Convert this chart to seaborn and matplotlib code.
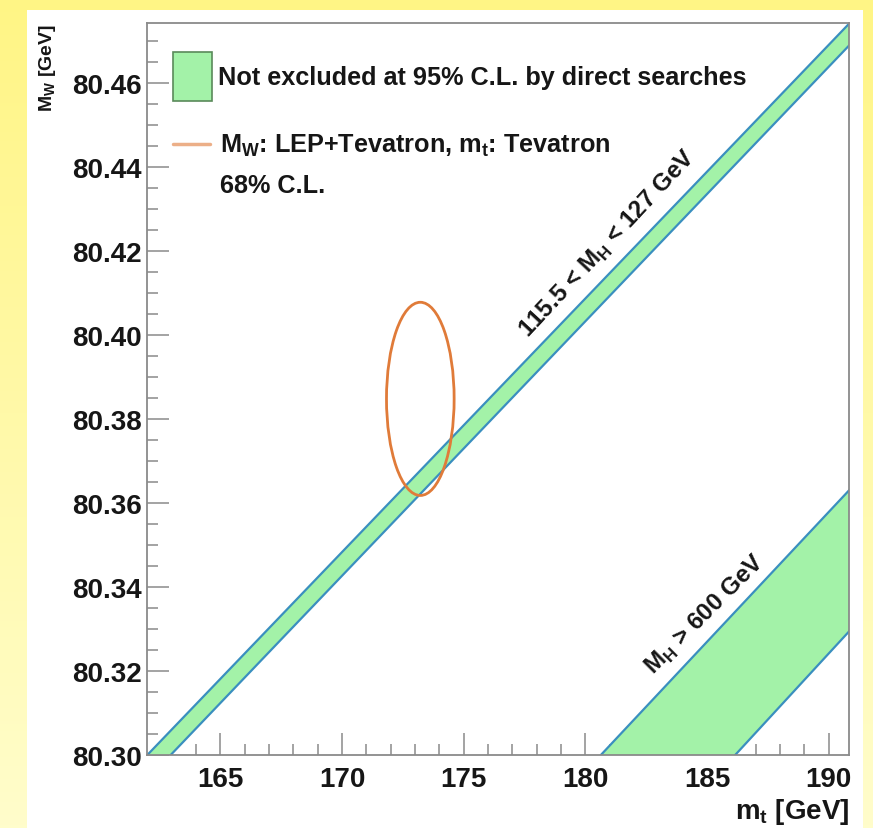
import numpy as np
import pandas as pd
import matplotlib
matplotlib.use("Agg")
import matplotlib.pyplot as plt
import seaborn as sns
from matplotlib.patches import Rectangle, Ellipse
from matplotlib.lines import Line2D
from matplotlib.colors import LinearSegmentedColormap

# ---------------- data ----------------
# SM band 115.5 < MH < 127 GeV : edges (mt, MW)
band_light_upper_mt = [162.0, 190.9]
band_light_upper_mw = [80.300, 80.4745]
band_light_lower_mt = [162.96, 190.9]
band_light_lower_mw = [80.300, 80.4693]
# SM band MH > 600 GeV
band_heavy_upper_mt = [180.64, 190.9]
band_heavy_upper_mw = [80.300, 80.3634]
band_heavy_lower_mt = [186.16, 190.9]
band_heavy_lower_mw = [80.300, 80.3298]
# 68% CL measurement ellipse
meas_mt = 173.22
meas_mw = 80.3848
meas_half_mt = 1.39
meas_half_mw = 0.0230

x_ticks = [165, 170, 175, 180, 185, 190]
y_ticks = [80.30, 80.32, 80.34, 80.36, 80.38, 80.40, 80.42, 80.44, 80.46]
x_tick_labels = ["165", "170", "175", "180", "185", "190"]
y_tick_labels = ["80.30", "80.32", "80.34", "80.36", "80.38", "80.40", "80.42", "80.44", "80.46"]

legend_labels = ["Not excluded at 95% C.L. by direct searches",
                 r"M$_\mathregular{W}$: LEP+Tevatron, m$_\mathregular{t}$: Tevatron",
                 "68% C.L."]
band_labels = [r"115.5 < M$_\mathregular{H}$ < 127 GeV", r"M$_\mathregular{H}$ > 600 GeV"]

# ---------------- style ----------------
sns.set_style("white")
plt.rcParams["font.family"] = ["Liberation Sans", "DejaVu Sans"]
plt.rcParams["font.weight"] = "bold"

GREEN = "#A3F2A8"
EDGE = "#3A8FBF"
ORANGE = "#E07B39"
GRAY = "#8a8a8a"
TXT = "#161616"

W, H = 873, 829
fig = plt.figure(figsize=(W / 100, H / 100), dpi=100)

# background: yellow gradient with a white panel
bg = fig.add_axes([0, 0, 1, 1], zorder=-10)
grad = np.linspace(0, 1, 256).reshape(-1, 1)
cmap = LinearSegmentedColormap.from_list("yel", ["#FFF585", "#FFFDCB"])
bg.imshow(grad, aspect="auto", cmap=cmap, extent=[0, 1, 0, 1], origin="upper")
bg.add_patch(Rectangle((27 / W, 0), (863 - 27) / W, (H - 11) / H, facecolor="white",
                       edgecolor="none", transform=bg.transAxes))
bg.set_xlim(0, 1)
bg.set_ylim(0, 1)
bg.axis("off")

ax_l, ax_r, ax_t, ax_b = 147.3, 849.3, 24, 756
ax = fig.add_axes([ax_l / W, (H - ax_b) / H, (ax_r - ax_l) / W, (ax_b - ax_t) / H], zorder=1)
ax.set_facecolor("white")

# bands
def band(up_x, up_y, lo_x, lo_y):
    px = list(up_x) + list(lo_x)[::-1]
    py = list(up_y) + list(lo_y)[::-1]
    ax.fill(px, py, color=GREEN, lw=0, zorder=1)
    for xs, ys in ((up_x, up_y), (lo_x, lo_y)):
        sns.lineplot(x=xs, y=ys, ax=ax, color=EDGE, lw=1.6, zorder=2)

band(band_light_upper_mt, band_light_upper_mw, band_light_lower_mt, band_light_lower_mw)
band(band_heavy_upper_mt, band_heavy_upper_mw, band_heavy_lower_mt, band_heavy_lower_mw)

ax.add_patch(Ellipse((meas_mt, meas_mw), 2 * meas_half_mt, 2 * meas_half_mw,
                     facecolor="none", edgecolor=ORANGE, lw=2.0, zorder=3))

ax.set_xlim(162.0, 190.85)
ax.set_ylim(80.300, 80.4743)

ax.set_xticks(x_ticks)
ax.set_xticklabels(x_tick_labels)
ax.set_yticks(y_ticks)
ax.set_yticklabels(y_tick_labels)
ax.set_xticks(np.arange(163, 191, 1), minor=True)
ax.set_yticks(np.arange(80.305, 80.475, 0.005), minor=True)
ax.tick_params(axis="both", which="both", bottom=True, left=True, top=False, right=False)
ax.tick_params(axis="both", which="major", direction="in", length=15.5, width=1.1,
               color=GRAY, labelsize=20, labelcolor=TXT, pad=4)
ax.tick_params(axis="both", which="minor", direction="in", length=8, width=1.1, color=GRAY)
ax.tick_params(axis="x", which="major", pad=8)
for lab in ax.get_xticklabels() + ax.get_yticklabels():
    lab.set_fontweight("bold")
for s in ax.spines.values():
    s.set_color(GRAY)
    s.set_linewidth(1.3)

ax.set_xlabel(r"m$_\mathregular{t}$ [GeV]", fontsize=20, fontweight="bold",
              loc="right", color=TXT)
ax.xaxis.set_label_coords(1.0, -0.056)
ax.set_ylabel(r"M$_\mathregular{W}$ [GeV]", fontsize=14, fontweight="bold",
              loc="top", color=TXT)
ax.yaxis.set_label_coords(-0.127, 1.0)

# manual legend
ax.add_patch(Rectangle((0.0366, 0.8934), 0.0556, 0.067, transform=ax.transAxes,
                       facecolor=GREEN, edgecolor="#5a8a5a", lw=1.2, zorder=4))
ax.add_line(Line2D([0.0366, 0.0893], [0.8347, 0.8347], transform=ax.transAxes,
                   color=ORANGE, lw=2.5, alpha=0.6, zorder=4))
ax.text(0.1007, 0.9173, legend_labels[0], transform=ax.transAxes, fontsize=18.2,
        fontweight="bold", va="baseline", ha="left", color=TXT)
ax.text(0.1036, 0.8245, legend_labels[1], transform=ax.transAxes, fontsize=18.2,
        fontweight="bold", va="baseline", ha="left", color=TXT)
ax.text(0.1036, 0.7698, legend_labels[2], transform=ax.transAxes, fontsize=18.2,
        fontweight="bold", va="baseline", ha="left", color=TXT)

# band labels
ax.text(180.94, 80.4220, band_labels[0], fontsize=17.5, fontweight="bold", rotation=47,
        rotation_mode="anchor", ha="center", va="center", color=TXT, zorder=5)
ax.text(184.92, 80.3336, band_labels[1], fontsize=17.5, fontweight="bold", rotation=45,
        rotation_mode="anchor", ha="center", va="center", color=TXT, zorder=5)

fig.savefig("out.png", dpi=100, facecolor=fig.get_facecolor())
